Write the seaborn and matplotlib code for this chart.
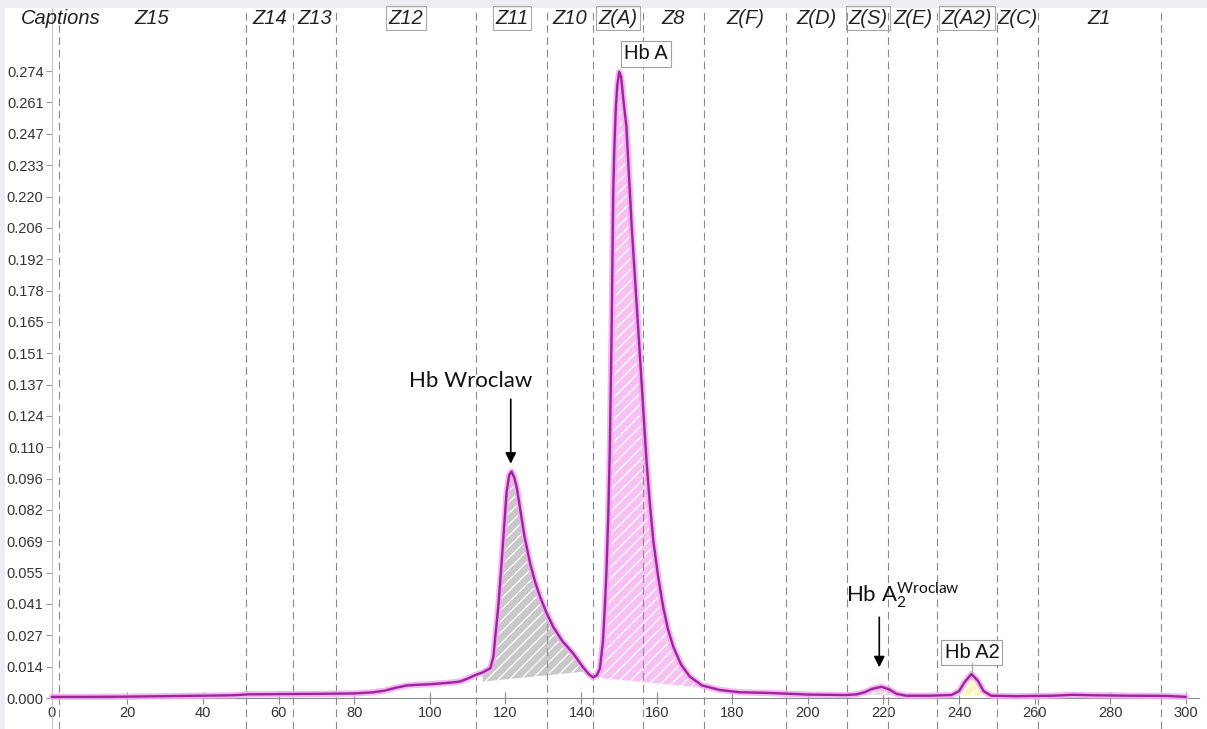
import numpy as np
import pandas as pd
import matplotlib
matplotlib.use('Agg')
import matplotlib.pyplot as plt
import seaborn as sns

# trace (position, absorbance)
trace_x = [0, 10, 20, 30, 40, 48, 52, 60, 70, 80, 85, 88, 91, 94, 97, 100, 103, 106, 108, 110,
           112, 114, 116, 116.8, 117.5, 118.1, 118.8, 119.4, 120.3, 121.0, 121.6, 122.3, 123.0,
           123.8, 125.0, 126.5, 127.8, 129.1, 130.8, 132.6, 135.0, 137.9, 140.5, 142.0, 143.2,
           144.2, 145.0, 145.8, 146.3, 146.7, 147.2, 147.6, 148.1, 148.5, 148.8, 149.2, 149.6,
           150.1, 150.6, 151.1, 152.0, 153.4, 155.1, 157.3, 158.2, 159.1, 160.4, 161.7,
           163.0, 164.4, 166.5, 168.8, 172.0, 176.7, 182, 190, 200, 210, 213, 215, 217, 219.5,
           221.5, 223.5, 226, 232, 238, 240, 241.5, 243.3, 245, 246.5, 248.5, 255, 265, 270,
           275, 285, 295, 300]
trace_y = [0.0005, 0.0005, 0.0006, 0.0008, 0.0010, 0.0012, 0.0016, 0.0017, 0.0018, 0.0020,
           0.0025, 0.0032, 0.0045, 0.0055, 0.0058, 0.0060, 0.0064, 0.0068, 0.0072, 0.0085,
           0.0100, 0.0112, 0.0130, 0.0180, 0.0300, 0.0400, 0.0550, 0.0690, 0.0900, 0.0975,
           0.0990, 0.0965, 0.0920, 0.0836, 0.0710, 0.0590, 0.0510, 0.0445, 0.0375, 0.0312,
           0.0250, 0.0195, 0.0135, 0.0105, 0.0090, 0.0100, 0.0130, 0.0250, 0.0400, 0.0545,
           0.0800, 0.1080, 0.1620, 0.2206, 0.2400, 0.2580, 0.2680, 0.2737, 0.2715, 0.2630,
           0.2497, 0.2060, 0.1620, 0.1040, 0.0850, 0.0690, 0.0530, 0.0400, 0.0300,
           0.0224, 0.0145, 0.0093, 0.0055, 0.0035, 0.0025, 0.0022, 0.0015, 0.0013, 0.0016,
           0.0025, 0.0040, 0.0049, 0.0038, 0.0018, 0.0010, 0.0010, 0.0013, 0.0030, 0.0070,
           0.0105, 0.0075, 0.0030, 0.0010, 0.0008, 0.0010, 0.0014, 0.0012, 0.0010, 0.0009,
           0.0005]

# zone dividers and captions
zone_edges = [1.8, 51.3, 63.8, 75.1, 112.3, 131.0, 143.1, 156.3, 172.5, 194.3, 210.3,
              221.3, 234.1, 250.1, 260.8, 293.4]
zone_names = ['Z15', 'Z14', 'Z13', 'Z12', 'Z11', 'Z10', 'Z(A)', 'Z8', 'Z(F)', 'Z(D)',
              'Z(S)', 'Z(E)', 'Z(A2)', 'Z(C)', 'Z1']
boxed_zones = ['Z12', 'Z11', 'Z(A)', 'Z(S)', 'Z(A2)']

# integrated peaks
peak_start = [113.0, 143.2, 213.0, 238.0]
peak_end = [140.5, 172.0, 224.5, 248.5]
peak_base_start = [0.0070, 0.0090, 0.0013, 0.0012]
peak_base_end = [0.0115, 0.0045, 0.0012, 0.0011]
peak_colors = ['#c8c8c8', '#f7c2f2', '#e6dbe4', '#f6f5c2']

y_tick_labels = ['0.000', '0.014', '0.027', '0.041', '0.055', '0.069', '0.082', '0.096',
                 '0.110', '0.124', '0.137', '0.151', '0.165', '0.178', '0.192', '0.206',
                 '0.220', '0.233', '0.247', '0.261', '0.274']
x_ticks = [0, 20, 40, 60, 80, 100, 120, 140, 160, 180, 200, 220, 240, 260, 280, 300]

df = pd.DataFrame({'pos': trace_x, 'abs': trace_y})

sns.set_style('white')
plt.rcParams['font.family'] = ['Liberation Sans', 'DejaVu Sans']
plt.rcParams['hatch.linewidth'] = 0.9
plt.rcParams['mathtext.fontset'] = 'custom'
plt.rcParams['mathtext.rm'] = 'Lato'

fig = plt.figure(figsize=(12.07, 7.29), dpi=100, facecolor='#eceef3')
ax = fig.add_axes([5 / 1207, 0, 1202 / 1207, 721 / 729])
ax.set_facecolor('white')
ax.set_xlim(-12.4, 305.6)
ax.set_ylim(-0.01355, 0.3016)

# filled peaks
x = np.array(trace_x)
y = np.array(trace_y)
for s, e, bs, be, c in zip(peak_start, peak_end, peak_base_start, peak_base_end, peak_colors):
    m = (x >= s) & (x <= e)
    base = np.interp(x[m], [s, e], [bs, be])
    ax.fill_between(x[m], base, y[m], facecolor=c, edgecolor='white', hatch='///',
                    linewidth=0, zorder=1)

# zone dividers
for zx in zone_edges:
    ax.axvline(zx, color='#8a8a8a', lw=0.8, ls=(0, (7, 4)), zorder=2)

# trace with glow
sns.lineplot(data=df, x='pos', y='abs', ax=ax, color='#f4aaf0', lw=4.5, alpha=0.85,
             sort=False, zorder=3)
sns.lineplot(data=df, x='pos', y='abs', ax=ax, color='#9a259c', lw=1.7, sort=False, zorder=4)

# captions row
cap_y = 0.2972
ax.text(2.4, cap_y, 'Captions', style='italic', fontsize=14.5, ha='center', va='center',
        color='#222222')
for i, name in enumerate(zone_names):
    cx = (zone_edges[i] + zone_edges[i + 1]) / 2
    box = None
    if name in boxed_zones:
        box = dict(boxstyle='square,pad=0.12', facecolor='none', edgecolor='#a8a8a8', lw=0.8)
    ax.text(cx, cap_y, name, style='italic', fontsize=14.5, ha='center', va='center',
            color='#222222', bbox=box)

# peak labels
lbl_box = dict(boxstyle='square,pad=0.15', facecolor='white', edgecolor='#a0a0a0', lw=0.8)
ax.text(157.1, 0.2815, 'Hb A', fontsize=14.5, ha='center', va='center', color='#111111',
        bbox=lbl_box, zorder=5)
ax.text(243.4, 0.0197, 'Hb A2', fontsize=14.5, ha='center', va='center', color='#111111',
        bbox=lbl_box, zorder=5)
ax.plot([243.4, 243.4], [0.0153, 0.0108], color='#a0a0a0', lw=0.8, zorder=5)

ax.text(110.8, 0.1385, 'Hb Wroclaw', fontsize=16, family=['Lato', 'DejaVu Sans'],
        ha='center', va='center', color='#111111')
ax.annotate('', xy=(121.4, 0.1012), xytext=(121.4, 0.1318),
            arrowprops=dict(arrowstyle='-|>', color='black', lw=1.2, mutation_scale=16))
ax.text(210.2, 0.0418, r'Hb A$_{\mathrm{2}}^{\mathrm{Wroclaw}}$', fontsize=16,
        family=['Lato', 'DejaVu Sans'], ha='left', va='baseline', color='#111111')
ax.annotate('', xy=(218.9, 0.0122), xytext=(218.9, 0.0365),
            arrowprops=dict(arrowstyle='-|>', color='black', lw=1.2, mutation_scale=16))

# axes
sns.despine(ax=ax, top=True, right=True)
ax.spines['left'].set_position(('data', 0))
ax.spines['bottom'].set_position(('data', 0))
ax.spines['left'].set_color('#c4c4c4')
ax.spines['left'].set_linewidth(0.8)
ax.spines['bottom'].set_color('#8c8c8c')
ax.spines['bottom'].set_linewidth(0.8)
ax.spines['bottom'].set_bounds(0, 303.5)

ax.set_yticks(np.linspace(0, 0.274, 21))
ax.set_yticklabels(y_tick_labels)
ax.set_xticks(x_ticks)
ax.set_xticklabels([str(v) for v in x_ticks])
ax.tick_params(axis='y', direction='out', length=4, width=0.8, color='#9a9a9a',
               labelsize=10.5, labelcolor='#333333', pad=2, left=True)
ax.tick_params(axis='x', direction='inout', length=8, width=0.8, color='#8c8c8c',
               labelsize=10.5, labelcolor='#333333', pad=2, bottom=True)
ax.set_xlabel('')
ax.set_ylabel('')

fig.savefig('out.png', dpi=100, facecolor=fig.get_facecolor())
